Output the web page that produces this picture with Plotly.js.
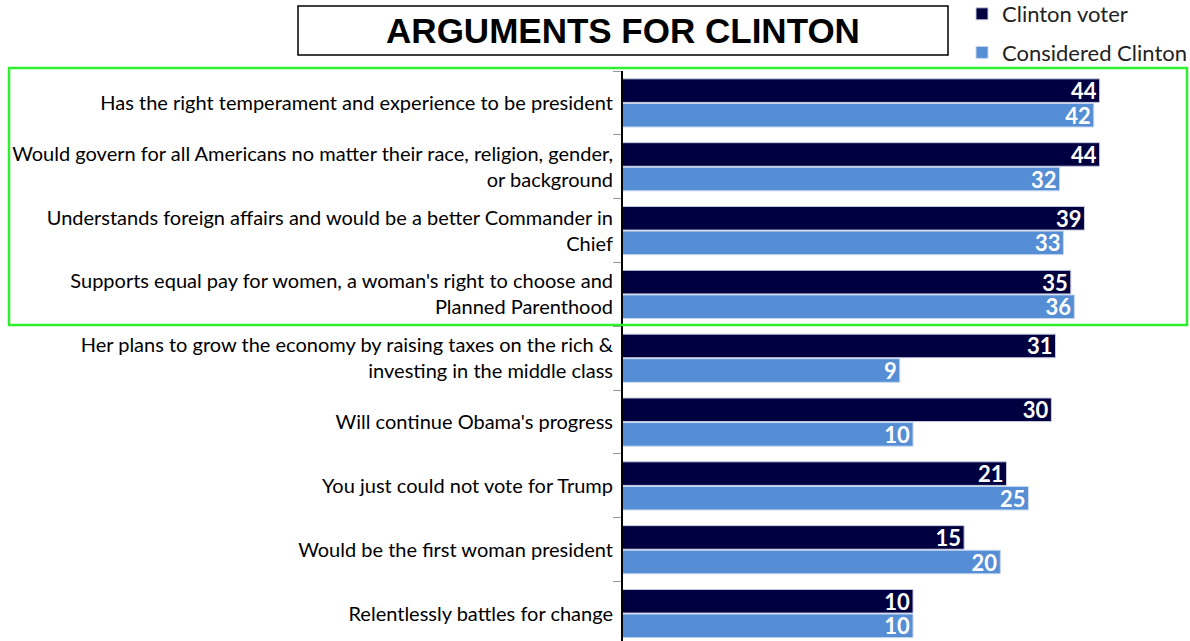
<!DOCTYPE html>
<html>
<head>
<meta charset="utf-8">
<script src="https://cdn.plot.ly/plotly-3.0.1.min.js"></script>
<style>html,body{margin:0;padding:0;background:#fff;}#chart{width:1190px;height:641px;}</style>
</head>
<body>
<div id="chart"></div>
<script>
var categories = [
  "Has the right temperament and experience to be president",
  "Would govern for all Americans no matter their race, religion, gender,<br>or background",
  "Understands foreign affairs and would be a better Commander in<br>Chief",
  "Supports equal pay for women, a woman's right to choose and<br>Planned Parenthood",
  "Her plans to grow the economy by raising taxes on the rich &<br>investing in the middle class",
  "Will continue Obama's progress",
  "You just could not vote for Trump",
  "Would be the first woman president",
  "Relentlessly battles for change"
];
var clintonVoter = [44, 44, 39, 35, 31, 30, 21, 15, 10];
var consideredClinton = [42, 32, 33, 36, 9, 10, 25, 20, 10];
var seriesNames = ["Clinton voter", "Considered Clinton"];
var chartTitle = "ARGUMENTS FOR CLINTON";

var labelFont = "Lato, 'Open Sans', sans-serif";

var traces = [
  {
    type: "bar", orientation: "h", name: seriesNames[0], legendgroup: "a",
    y: categories, x: clintonVoter, text: clintonVoter.map(String),
    textposition: "inside", insidetextanchor: "end", constraintext: "none", textangle: 0,
    textfont: {family: labelFont, size: 22, color: "#ffffff", weight: "bold"},
    marker: {color: "#000040", line: {color: "#c8cce0", width: 1}}
  },
  {
    type: "bar", orientation: "h", name: seriesNames[1], legendgroup: "b",
    y: categories, x: consideredClinton, text: consideredClinton.map(String),
    textposition: "inside", insidetextanchor: "end", constraintext: "none", textangle: 0,
    textfont: {family: labelFont, size: 22, color: "#ffffff", weight: "bold"},
    marker: {color: "#558ed5", line: {color: "#c8d8ee", width: 1}}
  }
];

var L = 623, W = 1190, H = 641, T = 71;
var pw = W - L, ph = H - T;
function px(x) { return (x - L) / pw; }
function py(y) { return (H - y) / ph; }

var layout = {
  width: W, height: H,
  margin: {l: L, r: 0, t: T, b: 0, pad: 0, autoexpand: false},
  paper_bgcolor: "#ffffff", plot_bgcolor: "#ffffff",
  barmode: "group", bargap: 0.23, bargroupgap: 0.04,
  showlegend: true,
  title: {
    text: chartTitle, xref: "container", yref: "container",
    x: 623 / W, xanchor: "center", y: 1 - 31 / H, yanchor: "middle",
    font: {family: "'Liberation Sans', Arial, sans-serif", size: 35, color: "#000000", weight: "bold"}
  },
  xaxis: {
    type: "log", range: [0, 1.955], showticklabels: false, showgrid: false,
    zeroline: false, showline: false, ticks: "", fixedrange: true
  },
  yaxis: {
    type: "category", range: [8.43, -0.5], showgrid: false, zeroline: false,
    showline: true, linecolor: "#000000", linewidth: 2,
    ticks: "outside", tickson: "boundaries", ticklen: 8, tickcolor: "#999999", tickwidth: 1,
    ticklabelstandoff: 4,
    tickfont: {family: labelFont, size: 20, color: "#000000"},
    fixedrange: true
  },
  legend: {
    x: px(962), xanchor: "left", y: py(-7), yanchor: "top",
    font: {family: labelFont, size: 22, color: "#222222"},
    itemwidth: 30, tracegroupgap: 7, traceorder: "grouped",
    bgcolor: "rgba(0,0,0,0)"
  },
  shapes: [
    {type: "rect", xref: "paper", yref: "paper",
     x0: px(298), x1: px(948), y0: py(55), y1: py(6),
     line: {color: "#000000", width: 1.5}, fillcolor: "rgba(0,0,0,0)"},
    {type: "rect", xref: "paper", yref: "paper",
     x0: px(9), x1: px(1187), y0: py(325), y1: py(68),
     line: {color: "#2ef02e", width: 2.5}, fillcolor: "rgba(0,0,0,0)"}
  ]
};

Plotly.newPlot("chart", traces, layout, {displayModeBar: false, staticPlot: true});
</script>
</body>
</html>
